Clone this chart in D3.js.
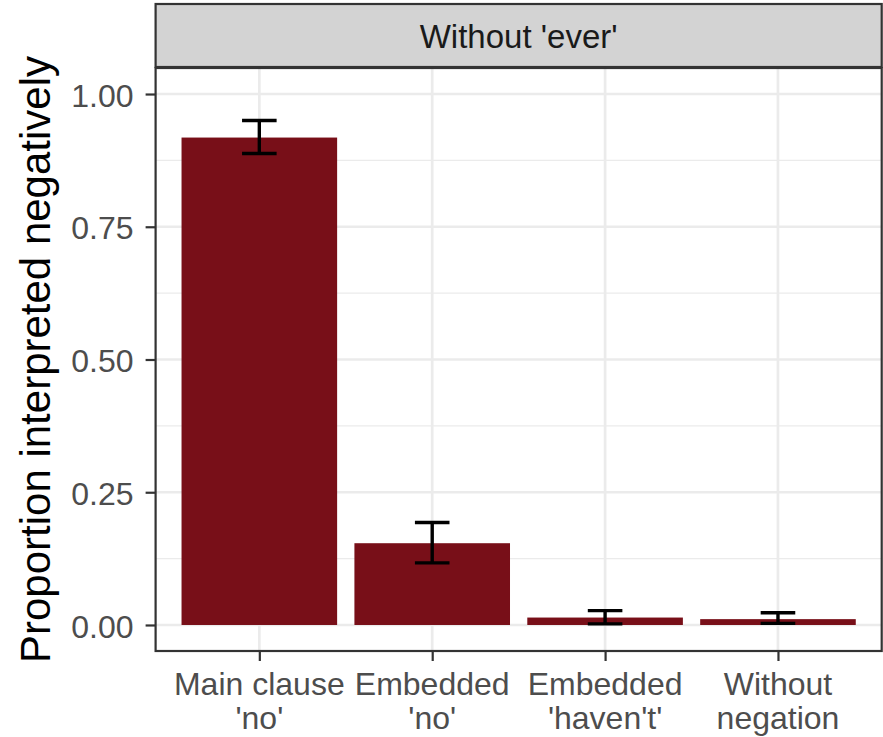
<!DOCTYPE html>
<html>
<head>
<meta charset="utf-8">
<script src="https://cdn.jsdelivr.net/npm/d3@7"></script>
<style>
  html, body { margin: 0; padding: 0; background: #fff; }
  svg { display: block; }
  text { font-family: "Liberation Sans", Arial, Helvetica, sans-serif; }
</style>
</head>
<body>
<svg id="chart" width="883" height="737"></svg>
<script>
// Conditions (two-line tick labels) and per-condition estimates
const categories = ["Main clause\n'no'", "Embedded\n'no'", "Embedded\n'haven't'", "Without\nnegation"];
const proportion = [0.918, 0.154, 0.014, 0.011];
const ciLower    = [0.888, 0.117, 0.002, 0.003];
const ciUpper    = [0.950, 0.193, 0.027, 0.023];
const yTicks      = [0, 0.25, 0.5, 0.75, 1.0];
const yMinorTicks = [0.125, 0.375, 0.625, 0.875];
const panelTitle  = "Without 'ever'";
const yTitle      = "Proportion interpreted negatively";

const svg = d3.select("#chart");

// Panel geometry
const panel = { left: 155.6, right: 881.7, top: 68, bottom: 651 };
const strip = { top: 4, bottom: 67 };

const x = d3.scaleLinear()
  .domain([-0.6, categories.length - 1 + 0.6])
  .range([panel.left, panel.right]);
const y = d3.scaleLinear()
  .domain([-0.049, 1.049])
  .range([panel.bottom, panel.top]);

const barWidth = 0.9;
const capWidth = 0.2;
const unit = x(1) - x(0);

// Panel background + grid
const g = svg.append("g");
g.append("rect")
  .attr("x", panel.left).attr("y", panel.top)
  .attr("width", panel.right - panel.left).attr("height", panel.bottom - panel.top)
  .attr("fill", "#fff");

g.selectAll("line.minor").data(yMinorTicks).join("line")
  .attr("x1", panel.left).attr("x2", panel.right)
  .attr("y1", d => y(d)).attr("y2", d => y(d))
  .attr("stroke", "#EBEBEB").attr("stroke-width", 1.4);

g.selectAll("line.major").data(yTicks).join("line")
  .attr("x1", panel.left).attr("x2", panel.right)
  .attr("y1", d => y(d)).attr("y2", d => y(d))
  .attr("stroke", "#EBEBEB").attr("stroke-width", 2.7);

g.selectAll("line.vmajor").data(categories).join("line")
  .attr("x1", (d, i) => x(i)).attr("x2", (d, i) => x(i))
  .attr("y1", panel.top).attr("y2", panel.bottom)
  .attr("stroke", "#EBEBEB").attr("stroke-width", 2.7);

// Bars
g.selectAll("rect.bar").data(proportion).join("rect")
  .attr("x", (d, i) => x(i - barWidth / 2))
  .attr("width", unit * barWidth)
  .attr("y", d => y(d))
  .attr("height", d => y(0) - y(d))
  .attr("fill", "#780F18");

// Error bars
const eb = g.selectAll("g.err").data(proportion.map((d, i) => ({ i, lo: ciLower[i], hi: ciUpper[i] })))
  .join("g").attr("stroke", "#000").attr("stroke-width", 3.4).attr("fill", "none");
eb.append("line")
  .attr("x1", d => x(d.i)).attr("x2", d => x(d.i))
  .attr("y1", d => y(d.lo)).attr("y2", d => y(d.hi));
eb.append("line")
  .attr("x1", d => x(d.i - capWidth / 2)).attr("x2", d => x(d.i + capWidth / 2))
  .attr("y1", d => y(d.hi)).attr("y2", d => y(d.hi));
eb.append("line")
  .attr("x1", d => x(d.i - capWidth / 2)).attr("x2", d => x(d.i + capWidth / 2))
  .attr("y1", d => y(d.lo)).attr("y2", d => y(d.lo));

// Panel border
g.append("rect")
  .attr("x", panel.left).attr("y", panel.top)
  .attr("width", panel.right - panel.left).attr("height", panel.bottom - panel.top)
  .attr("fill", "none").attr("stroke", "#333").attr("stroke-width", 2.2);

// Facet strip
g.append("rect")
  .attr("x", panel.left).attr("y", strip.top)
  .attr("width", panel.right - panel.left).attr("height", strip.bottom - strip.top)
  .attr("fill", "#D3D3D3").attr("stroke", "#333").attr("stroke-width", 2.2);
g.append("text")
  .attr("x", (panel.left + panel.right) / 2)
  .attr("y", 48)
  .attr("text-anchor", "middle")
  .attr("font-size", 33)
  .attr("fill", "#1A1A1A")
  .text(panelTitle);

// Y axis
const yAxis = d3.axisLeft(y).tickValues(yTicks).tickFormat(d3.format(".2f")).tickSize(10).tickPadding(12);
const ya = svg.append("g").attr("transform", `translate(${panel.left},0)`).call(yAxis);
ya.select(".domain").remove();
ya.selectAll(".tick line").attr("stroke", "#333").attr("stroke-width", 2.2);
ya.selectAll(".tick text")
  .attr("font-size", 32).attr("fill", "#4D4D4D")
  .attr("font-family", "Liberation Sans, Arial, sans-serif")
  .attr("dy", "0.38em");

// X axis
const xAxis = d3.axisBottom(x).tickValues(d3.range(categories.length)).tickSize(10).tickFormat("");
const xa = svg.append("g").attr("transform", `translate(0,${panel.bottom})`).call(xAxis);
xa.select(".domain").remove();
xa.selectAll(".tick line").attr("stroke", "#333").attr("stroke-width", 2.2);

svg.append("g").selectAll("text.xl").data(categories).join("text")
  .attr("x", (d, i) => x(i))
  .attr("y", 695)
  .attr("text-anchor", "middle")
  .attr("font-size", 32)
  .attr("fill", "#4D4D4D")
  .each(function (d) {
    const lines = d.split("\n");
    d3.select(this).selectAll("tspan").data(lines).join("tspan")
      .attr("x", d3.select(this).attr("x"))
      .attr("dy", (l, j) => j === 0 ? 0 : 34)
      .text(l => l);
  });

// Y title
svg.append("text")
  .attr("transform", `translate(50,${(panel.top + panel.bottom) / 2}) rotate(-90)`)
  .attr("text-anchor", "middle")
  .attr("font-size", 42)
  .attr("fill", "#000")
  .text(yTitle);
</script>
</body>
</html>
